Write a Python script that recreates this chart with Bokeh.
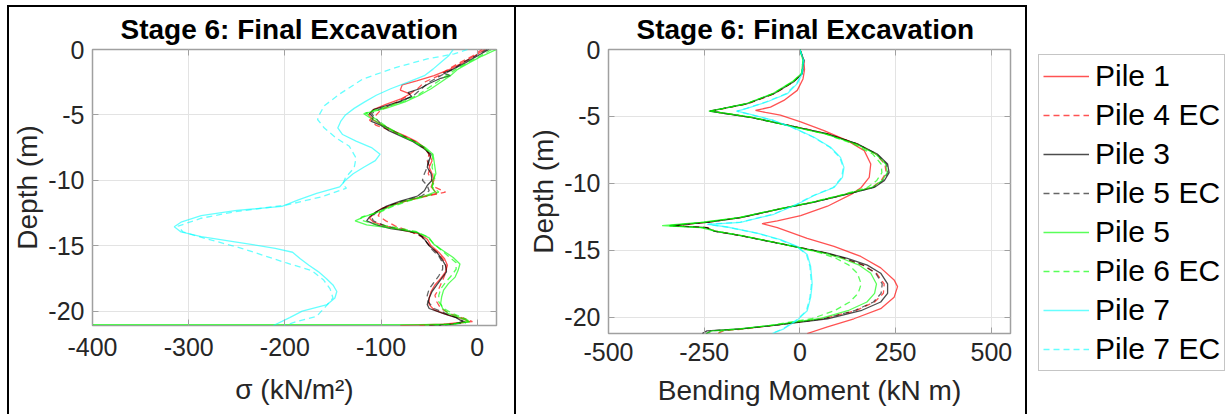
from bokeh.plotting import figure
from bokeh.layouts import row, column
from bokeh.models import Range1d, FixedTicker, LinearAxis, Legend, LegendItem
from bokeh.embed import file_html
from bokeh.resources import INLINE

# ---------------- legend / series ----------------
series_names = ["Pile 1", "Pile 4 EC", "Pile 3", "Pile 5 EC", "Pile 5", "Pile 6 EC", "Pile 7", "Pile 7 EC"]
series_colors = ["red", "red", "black", "black", "lime", "lime", "cyan", "cyan"]
series_alpha = [0.68, 0.68, 0.7, 0.6, 0.65, 0.65, 0.6, 0.6]
series_dash = ["solid", "6 4", "solid", "6 4", "solid", "6 4", "solid", "6 4"]

title_text = "Stage 6: Final Excavation"
stress_xticks = [-400, -300, -200, -100, 0]
stress_xlabels = ["-400", "-300", "-200", "-100", "0"]
moment_xticks = [-500, -250, 0, 250, 500]
moment_xlabels = ["-500", "-250", "0", "250", "500"]
depth_ticks = [0, -5, -10, -15, -20]
depth_labels = ["0", "-5", "-10", "-15", "-20"]

# ---------------- left panel: stress sigma (kN/m2) vs depth ----------------
stress_pile1_depth = [0, -0.5, -1.0, -1.5, -2.0, -2.4, -2.7, -3.1, -3.4, -3.8,
                      -4.2, -4.6, -5.0, -5.4, -5.8, -6.2, -6.6, -7.0, -7.5, -8.0,
                      -8.5, -9.0, -9.5, -10.0, -10.5, -11.0, -11.3, -11.7, -12.1, -12.5,
                      -12.9, -13.2, -13.5, -13.8, -14.1, -14.5, -15.0, -15.5, -16.0, -16.5,
                      -17.0, -17.5, -18.0, -18.5, -19.0, -19.5, -19.9, -20.3, -20.6, -20.8,
                      -21.0, -21.1]
stress_pile1 = [8, -3, -15, -28, -45, -63, -78, -80, -70, -80,
                -95, -108, -113, -108, -98, -88, -75, -64, -55, -50,
                -47, -50, -47, -45, -48, -42, -60, -80, -98, -107,
                -112, -108, -95, -78, -60, -52, -48, -40, -34, -31,
                -33, -38, -44, -48, -50, -50, -45, -30, -15, -8,
                -35, -80]

stress_pile4ec_depth = [0, -0.5, -1.0, -1.5, -2.0, -2.5, -3.0, -3.4, -3.8, -4.2,
                        -4.6, -5.0, -5.4, -5.8, -6.2, -6.6, -7.0, -7.5, -8.0, -8.5,
                        -9.0, -9.5, -10.0, -10.5, -10.9, -11.1, -11.5, -11.9, -12.3, -12.7,
                        -13.1, -13.5, -13.9, -14.3, -14.8, -15.3, -15.8, -16.3, -16.8, -17.3,
                        -17.8, -18.3, -18.8, -19.3, -19.8, -20.2, -20.6, -20.8, -21.0, -21.1]
stress_pile4ec = [5, -5, -18, -30, -40, -55, -62, -70, -78, -88,
                  -100, -105, -112, -105, -90, -78, -66, -56, -50, -52,
                  -49, -51, -47, -45, -33, -45, -70, -90, -100, -103,
                  -95, -85, -70, -58, -52, -45, -38, -33, -32, -34,
                  -37, -40, -44, -42, -38, -28, -12, -5, -30, -60]

stress_pile3_depth = [0, -0.5, -1.0, -1.5, -1.8, -2.0, -2.2, -2.6, -3.0, -3.3,
                      -3.6, -4.0, -4.3, -4.6, -4.9, -5.2, -5.5, -5.8, -6.2, -6.6,
                      -7.0, -7.5, -8.0, -8.5, -9.0, -9.5, -10.0, -10.4, -10.8, -11.2,
                      -11.6, -12.0, -12.4, -12.8, -13.1, -13.4, -13.7, -14.0, -14.5, -15.0,
                      -15.5, -16.0, -16.5, -17.0, -17.5, -18.0, -18.5, -19.0, -19.5, -19.8,
                      -20.2, -20.5, -20.8, -21.0, -21.1]
stress_pile3 = [12, 0, -12, -25, -35, -28, -38, -50, -60, -72,
                -68, -82, -95, -108, -112, -108, -110, -100, -92, -80,
                -68, -57, -48, -50, -52, -48, -47, -52, -55, -62,
                -80, -95, -105, -112, -115, -105, -90, -62, -55, -50,
                -42, -37, -33, -32, -37, -42, -47, -50, -52, -50,
                -35, -22, -15, -25, -50]

stress_pile5ec_depth = [0, -0.5, -1.0, -1.5, -2.0, -2.5, -3.0, -3.5, -4.0, -4.5,
                        -4.9, -5.3, -5.7, -6.1, -6.5, -7.0, -7.5, -8.0, -8.5, -9.0,
                        -9.5, -10.0, -10.4, -10.8, -11.2, -11.6, -12.0, -12.4, -12.8, -13.1,
                        -13.5, -13.9, -14.3, -14.8, -15.3, -15.8, -16.3, -16.8, -17.3, -17.8,
                        -18.3, -18.8, -19.3, -19.8, -20.2, -20.6, -20.9, -21.1]
stress_pile5ec = [10, -2, -15, -25, -38, -50, -58, -66, -80, -100,
                  -110, -105, -100, -90, -80, -66, -55, -50, -51, -52,
                  -55, -57, -52, -50, -58, -78, -93, -104, -110, -108,
                  -95, -70, -57, -52, -47, -40, -36, -36, -40, -45,
                  -50, -52, -51, -45, -32, -18, -12, -40]

stress_pile5_depth = [0, -0.5, -1.0, -1.5, -2.0, -2.5, -3.0, -3.5, -4.0, -4.5,
                      -4.9, -5.2, -5.5, -5.9, -6.3, -6.7, -7.1, -7.5, -8.0, -8.5,
                      -9.0, -9.5, -10.0, -10.5, -10.9, -11.2, -11.6, -12.0, -12.4, -12.8,
                      -13.1, -13.4, -13.7, -14.0, -14.4, -14.9, -15.4, -15.9, -16.4, -16.9,
                      -17.4, -17.9, -18.4, -18.9, -19.4, -19.8, -20.2, -20.5, -20.8, -21.0,
                      -21.03, -21.03]
stress_pile5 = [20, 5, -8, -20, -28, -38, -48, -60, -75, -95,
                -118, -112, -105, -96, -86, -76, -64, -54, -46, -45,
                -44, -43, -46, -47, -44, -55, -75, -90, -102, -118,
                -127, -115, -85, -62, -50, -45, -35, -25, -18, -20,
                -23, -30, -35, -37, -38, -36, -30, -18, -8, -25,
                -60, -500]

stress_pile6ec_depth = [0, -0.5, -1.0, -1.5, -2.0, -2.5, -3.0, -3.5, -4.0, -4.5,
                        -4.85, -5.2, -5.6, -6.0, -6.4, -6.8, -7.2, -7.6, -8.0, -8.5,
                        -9.0, -9.5, -10.0, -10.5, -10.9, -11.2, -11.6, -12.0, -12.4, -12.8,
                        -13.0, -13.3, -13.6, -13.9, -14.3, -14.8, -15.3, -15.8, -16.3, -16.8,
                        -17.3, -17.8, -18.3, -18.8, -19.3, -19.8, -20.2, -20.5, -20.8, -21.0,
                        -21.1]
stress_pile6ec = [15, 3, -10, -22, -32, -42, -52, -62, -78, -100,
                  -116, -108, -100, -92, -82, -72, -62, -54, -47, -46,
                  -47, -45, -44, -47, -40, -52, -72, -88, -100, -120,
                  -122, -110, -85, -64, -52, -46, -38, -30, -22, -22,
                  -27, -33, -38, -40, -40, -35, -25, -15, -7, -28,
                  -55]

stress_pile7_depth = [0, -0.5, -1.0, -1.5, -2.0, -2.5, -3.0, -3.5, -4.0, -4.5,
                      -5.0, -5.5, -6.0, -6.5, -7.0, -7.5, -8.0, -8.5, -9.0, -9.5,
                      -10.0, -10.5, -11.0, -11.5, -12.0, -12.3, -12.7, -13.2, -13.55, -13.95,
                      -14.3, -14.7, -15.2, -15.5, -16.0, -16.5, -17.0, -17.5, -18.0, -18.5,
                      -19.0, -19.5, -20.0, -20.5, -21.1]
stress_pile7 = [-25, -30, -38, -46, -55, -72, -90, -105, -117, -128,
                -137, -142, -145, -140, -126, -110, -101, -106, -118, -129,
                -137, -143, -167, -186, -203, -250, -287, -308, -315, -308,
                -287, -252, -210, -192, -184, -175, -165, -157, -150, -146,
                -148, -156, -182, -195, -212]

stress_pile7ec_depth = [0, -0.33, -0.72, -1.36, -2.26, -3.4, -4.3, -4.96, -5.35, -6.0,
                        -6.75, -7.4, -8.3, -9.05, -9.8, -10.3, -10.6, -11.25, -11.9, -12.4,
                        -12.9, -13.5, -13.95, -14.5, -15.2, -16.3, -16.9, -17.6, -18.3, -19.0,
                        -19.6, -20.4, -20.8, -21.1]
stress_pile7ec = [-10, -24, -52, -84, -119, -143, -159, -164, -166, -159,
                  -147, -133, -126, -128, -137, -140, -136, -161, -199, -252,
                  -287, -311, -306, -280, -245, -199, -172, -160, -153, -150,
                  -157, -167, -188, -200]

# ---------------- right panel: bending moment (kN m) vs depth ----------------
moment_pile1_depth = [0, -0.8, -1.5, -2.2, -3.05, -3.8, -4.3, -4.55, -4.7, -4.9,
                      -5.4, -6.05, -6.8, -7.55, -8.55, -9.55, -10.3, -10.8, -11.7, -12.4,
                      -12.8, -13.0, -13.3, -14.1, -14.7, -15.45, -16.3, -17.2, -17.7, -18.5,
                      -19.35, -20.1, -20.7, -21.2]
moment_pile1 = [0, 10, 12, 8, -7, -42, -77, -116, -90, -51,
                2, 63, 124, 168, 185, 181, 160, 135, 72, 2,
                -59, -99, -59, 19, 89, 159, 211, 246, 255, 246,
                211, 141, 72, 19]

moment_depth = [0, -0.8, -1.8, -2.4, -3.3, -4.05, -4.4, -4.6, -4.76, -5.06,
                -5.7, -6.3, -7.05, -7.8, -8.55, -9.2, -9.8, -10.3, -10.8, -11.4,
                -11.9, -12.55, -12.9, -13.15, -13.3, -13.55, -13.9, -14.4, -14.8, -15.2,
                -15.6, -16.1, -16.7, -17.5, -18.2, -18.85, -19.5, -20.1, -20.6, -20.85,
                -21.0, -21.2]
moment_pile4ec = [0, 10, 6, -16, -66, -136, -196, -230, -198, -128,
                  -22, 74, 150, 198, 222, 225, 212, 188, 120, 35,
                  -52, -155, -240, -330, -240, -222, -152, -66, 4, 68,
                  115, 165, 200, 220, 218, 195, 145, 60, -70, -140,
                  -200, -215]
moment_pile3 = [0, 10, 6, -16, -68, -138, -199, -236, -199, -129,
                -24, 72, 150, 202, 229, 233, 220, 194, 124, 37,
                -51, -155, -243, -340, -243, -225, -155, -68, 2, 72,
                124, 176, 211, 229, 229, 211, 159, 72, -68, -155,
                -243, -255]
moment_pile5ec = [0, 10, 6, -17, -69, -139, -200, -235, -200, -130,
                  -24, 71, 149, 200, 226, 230, 216, 190, 122, 36,
                  -52, -156, -245, -335, -245, -224, -154, -67, 3, 70,
                  118, 165, 198, 215, 212, 192, 142, 60, -70, -150,
                  -230, -245]
moment_pile5 = [0, 8, 4, -20, -72, -142, -200, -238, -195, -125,
                -28, 66, 146, 198, 224, 228, 214, 188, 120, 34,
                -54, -160, -260, -360, -260, -220, -152, -66, 0, 64,
                110, 155, 185, 200, 195, 175, 125, 50, -75, -160,
                -230, -245]
moment_pile6ec = [0, 8, 4, -18, -70, -140, -198, -232, -196, -126,
                  -26, 66, 140, 190, 212, 214, 200, 176, 115, 32,
                  -54, -158, -250, -345, -250, -222, -152, -64, 0, 55,
                  95, 128, 150, 160, 152, 130, 90, 30, -80, -150,
                  -205, -215]

moment_pile7_depth = [0, -0.8, -1.8, -2.55, -3.3, -3.9, -4.4, -4.6, -4.85, -5.3,
                      -5.85, -6.55, -7.3, -8.05, -8.8, -9.55, -10.3, -10.9, -11.55, -12.3,
                      -12.9, -13.05, -13.25, -13.7, -14.2, -14.7, -15.3, -16.2, -17.5, -18.5,
                      -19.5, -20.2, -20.85, -21.2]
moment_pile7 = [0, 10, 6, -7, -33, -85, -138, -164, -129, -68,
                -16, 37, 80, 106, 115, 111, 89, 37, -7, -68,
                -155, -240, -190, -112, -51, -7, 19, 28, 32, 28,
                19, -7, -42, -72]
moment_pile7ec = [0, 9, 5, -9, -36, -88, -140, -166, -131, -70,
                  -18, 35, 78, 104, 113, 109, 87, 35, -9, -70,
                  -158, -242, -192, -114, -53, -9, 17, 26, 30, 26,
                  17, -9, -44, -74]

stress_series = [(stress_pile1, stress_pile1_depth), (stress_pile4ec, stress_pile4ec_depth),
                 (stress_pile3, stress_pile3_depth), (stress_pile5ec, stress_pile5ec_depth),
                 (stress_pile5, stress_pile5_depth), (stress_pile6ec, stress_pile6ec_depth),
                 (stress_pile7, stress_pile7_depth), (stress_pile7ec, stress_pile7ec_depth)]
moment_series = [(moment_pile1, moment_pile1_depth), (moment_pile4ec, moment_depth),
                 (moment_pile3, moment_depth), (moment_pile5ec, moment_depth),
                 (moment_pile5, moment_depth), (moment_pile6ec, moment_depth),
                 (moment_pile7, moment_pile7_depth), (moment_pile7ec, moment_pile7_depth)]

FONT = "Liberation Sans"
FRAME = "#a0a0a0"


def make_panel(width, height, xr, yr, xticks, xlabels, xlabel, series, mb, margin, styles,
               xstand, xlabstand):
    p = figure(width=width, height=height, x_range=Range1d(*xr), y_range=Range1d(*yr),
               output_backend="svg", toolbar_location=None, title=title_text,
               min_border_left=mb[0], min_border_right=mb[1], min_border_top=mb[2],
               min_border_bottom=mb[3], margin=margin)
    p.styles = styles
    p.title.text_font = FONT
    p.title.text_font_size = "28px"
    p.title.text_font_style = "bold"
    p.title.text_color = "black"
    p.title.align = "left"
    p.title.offset = 28
    p.title.standoff = 9
    p.outline_line_color = FRAME
    p.outline_line_width = 1.5
    p.background_fill_color = "white"
    p.border_fill_color = "white"

    p.xaxis.ticker = FixedTicker(ticks=xticks)
    p.xaxis.major_label_overrides = {t: s for t, s in zip(xticks, xlabels)}
    p.yaxis.ticker = FixedTicker(ticks=depth_ticks)
    p.yaxis.major_label_overrides = {t: s for t, s in zip(depth_ticks, depth_labels)}
    p.xaxis.axis_label = xlabel
    p.yaxis.axis_label = "Depth (m)"
    for ax in (p.xaxis[0], p.yaxis[0]):
        ax.axis_line_color = None
        ax.major_tick_in = 6
        ax.major_tick_out = 0
        ax.major_tick_line_color = FRAME
        ax.minor_tick_line_color = None
        ax.major_label_text_font = FONT
        ax.major_label_text_font_size = "25px"
        ax.major_label_text_color = "#262626"
        ax.axis_label_text_font = FONT
        ax.axis_label_text_font_size = "28px"
        ax.axis_label_text_font_style = "normal"
        ax.axis_label_text_color = "#262626"
    p.xaxis.major_label_standoff = xstand
    p.yaxis.major_label_standoff = 8
    p.xaxis.axis_label_standoff = xlabstand
    p.yaxis.axis_label_standoff = 2

    # mirrored inward ticks on the right and top edges (no labels)
    for loc, ticks in (("right", depth_ticks), ("above", xticks)):
        ax = LinearAxis(ticker=FixedTicker(ticks=ticks), major_label_text_font_size="1px",
                        major_label_text_color=None, major_label_standoff=0,
                        major_tick_in=6, major_tick_out=0,
                        major_tick_line_color=FRAME, minor_tick_line_color=None,
                        axis_line_color=None)
        p.add_layout(ax, loc)

    p.xgrid.grid_line_color = "#e3e3e3"
    p.ygrid.grid_line_color = "#e3e3e3"
    p.xgrid.grid_line_width = 1
    p.ygrid.grid_line_width = 1

    for (xs, ys), c, a, d in zip(series, series_colors, series_alpha, series_dash):
        p.line(x=xs, y=ys, line_color=c, line_alpha=a, line_dash=d, line_width=1.3)
    return p


p1 = make_panel(509, 409, (-400, 20), (-21.1, 0), stress_xticks, stress_xlabels,
                "σ (kN/m²)", stress_series, (83, 22, 42, 91), (5, 0, 0, 7),
                {"border-left": "2px solid black", "border-top": "2px solid black",
                 "border-right": "2px solid black"}, 12, 15)
p2 = make_panel(511, 409, (-500, 550), (-21.2, 0), moment_xticks, moment_xlabels,
                "Bending Moment (kN m)", moment_series, (92, 17, 42, 83), (5, 0, 0, 0),
                {"border-top": "2px solid black", "border-right": "2px solid black"}, 9, 11)

p3 = figure(width=202, height=414, x_range=Range1d(0, 1), y_range=Range1d(0, 1),
            x_axis_type=None, y_axis_type=None, output_backend="svg", toolbar_location=None,
            min_border_left=11, min_border_right=0, min_border_top=54, min_border_bottom=0,
            outline_line_color=None)
p3.xgrid.visible = False
p3.ygrid.visible = False
items = []
for name, c, a, d in zip(series_names, series_colors, series_alpha, series_dash):
    r = p3.line(x=[5, 6], y=[5, 6], line_color=c, line_alpha=a, line_dash=d, line_width=1.5)
    items.append(LegendItem(label=name, renderers=[r]))
leg = Legend(items=items, location="top_left", label_text_font=FONT, label_text_font_size="30px",
             label_text_color="black", glyph_width=46, glyph_height=34, label_height=34,
             spacing=5, padding=4, margin=0, label_standoff=6,
             border_line_color="#8c8c8c", border_line_width=1, background_fill_color="white",
             background_fill_alpha=1.0)
p3.add_layout(leg)

layout = row(column(p1), column(p2), column(p3), spacing=0)
open("out.html", "w").write(file_html(layout, INLINE))
